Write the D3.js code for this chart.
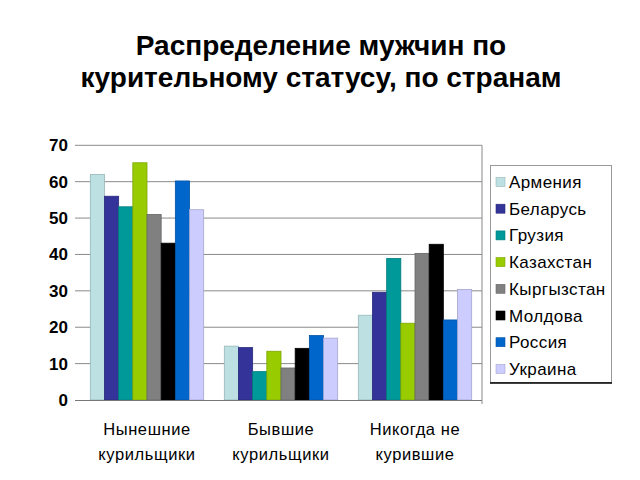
<!DOCTYPE html>
<html><head><meta charset="utf-8">
<script src="https://cdn.jsdelivr.net/npm/d3@7"></script>
<style>body{margin:0;background:#fff}svg{display:block}</style>
</head><body>
<svg id="c" width="640" height="480"></svg>
<script>
const categories = [["Нынешние","курильщики"],["Бывшие","курильщики"],["Никогда не","курившие"]];
const countries = ["Армения","Беларусь","Грузия","Казахстан","Кыргызстан","Молдова","Россия","Украина"];
const colors = ["#bde0e3","#333399","#009999","#99cc00","#808080","#000000","#0066cc","#ccccff"];
const valArmenia = [62, 14.8, 23.3];
const valBelarus = [56, 14.4, 29.6];
const valGeorgia = [53.1, 7.8, 38.9];
const valKazakhstan = [65.2, 13.4, 21.1];
const valKyrgyzstan = [51, 8.8, 40.3];
const valMoldova = [43.1, 14.2, 42.8];
const valRussia = [60.2, 17.7, 22];
const valUkraine = [52.3, 17, 30.4];
const yTicks = [0,10,20,30,40,50,60,70];
const series = [valArmenia,valBelarus,valGeorgia,valKazakhstan,valKyrgyzstan,valMoldova,valRussia,valUkraine];

const svg = d3.select("#c");
const font = "Arial, 'Liberation Sans', sans-serif";
const L = 80, R = 482, T = 145.3, B = 400;

svg.append("text").attr("x",321).attr("y",55).attr("text-anchor","middle")
  .attr("font-family",font).attr("font-weight","bold").attr("font-size",28).text("Распределение мужчин по");
svg.append("text").attr("x",321).attr("y",87).attr("text-anchor","middle")
  .attr("font-family",font).attr("font-weight","bold").attr("font-size",28).text("курительному статусу, по странам");

const y = d3.scaleLinear().domain([0,70]).range([B,T]);
const x0 = d3.scaleBand().domain(d3.range(categories.length)).range([L,R]).paddingInner(0.154).paddingOuter(0.077);
const x1 = d3.scaleBand().domain(d3.range(countries.length)).range([0,x0.bandwidth()]);

// gridlines
svg.append("g").selectAll("line").data(yTicks.filter(t=>t>0)).join("line")
  .attr("x1",75).attr("x2",R).attr("y1",d=>y(d)).attr("y2",d=>y(d))
  .attr("stroke","#8a8a8a").attr("stroke-width",1);
svg.append("line").attr("x1",R).attr("x2",R).attr("y1",T).attr("y2",404).attr("stroke","#8a8a8a");

const yAxis = svg.append("g").attr("transform",`translate(${L},0)`)
  .call(d3.axisLeft(y).tickValues(yTicks).tickSize(0).tickPadding(12));
yAxis.select(".domain").remove();
yAxis.selectAll("text").attr("font-family",font).attr("font-size",17).attr("font-weight","bold").attr("fill","#000");

// bars
const g = svg.append("g");
series.forEach((vals,si)=>{
  g.append("g").selectAll("rect").data(vals).join("rect")
    .attr("x",(d,ci)=>x0(ci)+x1(si)).attr("width",x1.bandwidth())
    .attr("y",d=>y(d)).attr("height",d=>B-y(d))
    .attr("fill",colors[si]).attr("stroke",d3.color(colors[si]).darker(0.6)).attr("stroke-width",0.8);
});

svg.append("line").attr("x1",75).attr("x2",R).attr("y1",B+0.5).attr("y2",B+0.5).attr("stroke","#777");

// x labels
categories.forEach((c,i)=>{
  const cx = x0(i)+x0.bandwidth()/2;
  c.forEach((t,j)=>{
    svg.append("text").attr("x",cx).attr("y",435+j*25).attr("text-anchor","middle")
      .attr("font-family",font).attr("font-size",16.5).attr("letter-spacing",0.6).text(t);
  });
});

// legend
const lg = svg.append("g");
lg.append("rect").attr("x",490.5).attr("y",165.5).attr("width",121).attr("height",217)
  .attr("fill","#fff").attr("stroke","#999");
lg.append("line").attr("x1",490).attr("x2",612).attr("y1",383).attr("y2",383).attr("stroke","#000").attr("stroke-width",1.5);
countries.forEach((n,i)=>{
  const yy = 182 + i*26.7;
  lg.append("rect").attr("x",496).attr("y",yy-4.5).attr("width",9).attr("height",9)
    .attr("fill",colors[i]).attr("stroke",d3.color(colors[i]).darker(0.6)).attr("stroke-width",0.6);
  lg.append("text").attr("x",509).attr("y",yy+6).attr("font-family",font).attr("font-size",17)
    .attr("letter-spacing",0.4).text(n);
});
</script>
</body></html>
